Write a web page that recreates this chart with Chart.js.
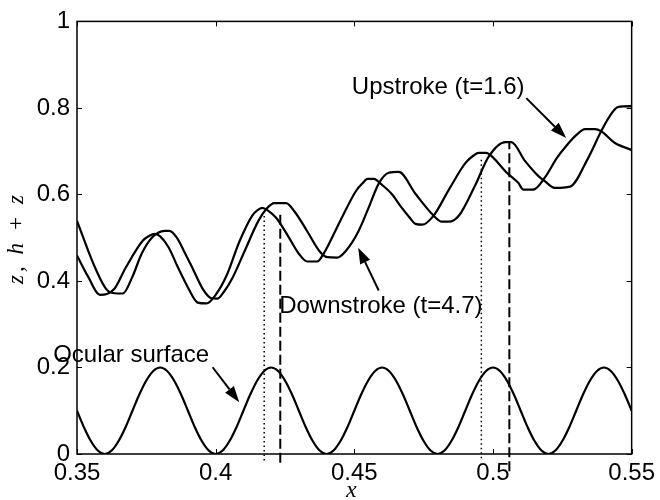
<!DOCTYPE html>
<html>
<head>
<meta charset="utf-8">
<script src="https://cdn.jsdelivr.net/npm/chart.js@4/dist/chart.umd.min.js"></script>
<style>
  html, body { margin: 0; padding: 0; background: #fff; }
  canvas { display: block; }
</style>
</head>
<body>
<canvas id="c" width="660" height="500"></canvas>
<script>
// Axis ticks
const X_TICKS = [0.35, 0.40, 0.45, 0.50, 0.55];
const X_TICK_LABELS = ['0.35', '0.4', '0.45', '0.5', '0.55'];
const Y_TICKS = [0, 0.2, 0.4, 0.6, 0.8, 1];
const Y_TICK_LABELS = ['0', '0.2', '0.4', '0.6', '0.8', '1'];

// Ocular surface z(x)
const OCULAR_X = [
  0.35, 0.3525, 0.355, 0.3575, 0.36, 0.3625, 0.365, 0.3675, 0.37, 0.3725, 0.375, 0.3775, 0.38, 0.3825, 0.385, 0.3875,
  0.39, 0.3925, 0.395, 0.3975, 0.40, 0.4025, 0.405, 0.4075, 0.41, 0.4125, 0.415, 0.4175, 0.42, 0.4225, 0.425, 0.4275,
  0.43, 0.4325, 0.435, 0.4375, 0.44, 0.4425, 0.445, 0.4475, 0.45, 0.4525, 0.455, 0.4575, 0.46, 0.4625, 0.465, 0.4675,
  0.47, 0.4725, 0.475, 0.4775, 0.48, 0.4825, 0.485, 0.4875, 0.49, 0.4925, 0.495, 0.4975, 0.50, 0.5025, 0.505, 0.5075,
  0.51, 0.5125, 0.515, 0.5175, 0.52, 0.5225, 0.525, 0.5275, 0.53, 0.5325, 0.535, 0.5375, 0.54, 0.5425, 0.545, 0.5475,
  0.55
];
const OCULAR_Y = [
  0.100, 0.062, 0.030, 0.008, 0.000, 0.008, 0.030, 0.062, 0.100, 0.138, 0.170, 0.192, 0.200, 0.192, 0.170, 0.138,
  0.100, 0.062, 0.030, 0.008, 0.000, 0.008, 0.030, 0.062, 0.100, 0.138, 0.170, 0.192, 0.200, 0.192, 0.170, 0.138,
  0.100, 0.062, 0.030, 0.008, 0.000, 0.008, 0.030, 0.062, 0.100, 0.138, 0.170, 0.192, 0.200, 0.192, 0.170, 0.138,
  0.100, 0.062, 0.030, 0.008, 0.000, 0.008, 0.030, 0.062, 0.100, 0.138, 0.170, 0.192, 0.200, 0.192, 0.170, 0.138,
  0.100, 0.062, 0.030, 0.008, 0.000, 0.008, 0.030, 0.062, 0.100, 0.138, 0.170, 0.192, 0.200, 0.192, 0.170, 0.138,
  0.100
];

// Film surface h+z during the upstroke (t=1.6)
const UP_X = [
  0.3500, 0.3540, 0.3583, 0.3608, 0.3635, 0.3675, 0.3737, 0.3760, 0.3780, 0.3800,
  0.3830, 0.3865, 0.3900, 0.3935, 0.3967, 0.4000, 0.4039, 0.4085, 0.4132, 0.4150,
  0.4168, 0.4190, 0.4218, 0.4260, 0.4300, 0.4330, 0.4366, 0.4391, 0.4450, 0.4506,
  0.4530, 0.4548, 0.4570, 0.4600, 0.4635, 0.4670, 0.4700, 0.4720, 0.4745, 0.4786,
  0.4840, 0.4901, 0.4930, 0.4948, 0.4976, 0.4994, 0.5050, 0.5091, 0.5110, 0.5145,
  0.5188, 0.5230, 0.5264, 0.5300, 0.5332, 0.5368, 0.5390, 0.5440, 0.5500
];
const UP_Y = [
  0.459, 0.410, 0.368, 0.370, 0.382, 0.430, 0.493, 0.504, 0.509, 0.503,
  0.478, 0.430, 0.385, 0.350, 0.348, 0.368, 0.412, 0.490, 0.551, 0.563,
  0.569, 0.562, 0.546, 0.505, 0.463, 0.445, 0.445, 0.465, 0.540, 0.608,
  0.626, 0.636, 0.636, 0.622, 0.601, 0.570, 0.546, 0.532, 0.530, 0.551,
  0.610, 0.673, 0.690, 0.696, 0.696, 0.689, 0.650, 0.627, 0.611, 0.611,
  0.640, 0.684, 0.712, 0.737, 0.751, 0.751, 0.746, 0.719, 0.703
];

// Film surface h+z during the downstroke (t=4.7)
const DOWN_X = [
  0.3500, 0.3565, 0.3610, 0.3647, 0.3665, 0.3700, 0.3733, 0.3770, 0.3816, 0.3834,
  0.3860, 0.3885, 0.3920, 0.3955, 0.3985, 0.4006, 0.4030, 0.4060, 0.4105, 0.4155,
  0.4185, 0.4211, 0.4254, 0.4285, 0.4330, 0.4373, 0.4402, 0.4438, 0.4470, 0.4515,
  0.4552, 0.4588, 0.4624, 0.4660, 0.4721, 0.4786, 0.4815, 0.4840, 0.4876, 0.4935,
  0.4985, 0.5045, 0.5066, 0.5116, 0.5163, 0.5188, 0.5224, 0.5278, 0.5343, 0.5390,
  0.5420, 0.5450, 0.5497, 0.5500
];
const DOWN_Y = [
  0.539, 0.431, 0.378, 0.371, 0.371, 0.410, 0.463, 0.500, 0.516, 0.516,
  0.500, 0.470, 0.425, 0.380, 0.360, 0.359, 0.375, 0.406, 0.470, 0.540,
  0.568, 0.580, 0.580, 0.560, 0.515, 0.470, 0.455, 0.454, 0.470, 0.515,
  0.570, 0.625, 0.650, 0.652, 0.601, 0.551, 0.537, 0.537, 0.550, 0.620,
  0.688, 0.721, 0.721, 0.677, 0.643, 0.630, 0.615, 0.618, 0.684, 0.746,
  0.780, 0.802, 0.804, 0.803
];

// Vertical guides under the crests (dotted: upstroke, dashed: downstroke)
const DOTTED_X = [0.4175, 0.4958];
const DOTTED_LOW = [-0.015, -0.010];
const DOTTED_HIGH = [0.558, 0.684];
const DASHED_X = [0.4233, 0.5059];
const DASHED_LOW = [-0.020, -0.040];
const DASHED_HIGH = [0.558, 0.719];

// Callout labels: text, anchor (left, baseline) and arrow tail -> tip, all in data units
const LABELS = [
  { text: 'Upstroke (t=1.6)',   at: [0.4491, 0.8318], tail: [0.5120, 0.8226], tip: [0.5264, 0.7304] },
  { text: 'Downstroke (t=4.7)', at: [0.4229, 0.3249], tail: [0.4588, 0.3779], tip: [0.4514, 0.4770] },
  { text: 'Ocular surface',     at: [0.3414, 0.2120], tail: [0.3989, 0.2005], tip: [0.4085, 0.1198] }
];

const SANS = '"Liberation Sans", Arial, Helvetica, sans-serif';
const SERIF = '"Liberation Serif", "Times New Roman", serif';
const FONT_PX = 24;
const TICK_LEN = 5;

const pairs = (xs, ys) => xs.map((x, i) => ({ x, y: ys[i] }));

const curve = (label, xs, ys) => ({
  label,
  data: pairs(xs, ys),
  borderColor: '#000',
  borderWidth: 2.2,
  pointRadius: 0,
  fill: false,
  cubicInterpolationMode: 'monotone'
});

const guide = (label, x, lo, hi, dash, width) => ({
  label,
  data: [{ x, y: lo }, { x, y: hi }],
  borderColor: '#000',
  borderWidth: width,
  borderDash: dash,
  pointRadius: 0,
  fill: false,
  clip: false
});

const datasets = [
  curve('Ocular surface', OCULAR_X, OCULAR_Y),
  curve('Upstroke (t=1.6)', UP_X, UP_Y),
  curve('Downstroke (t=4.7)', DOWN_X, DOWN_Y)
];
DOTTED_X.forEach((x, i) => datasets.push(guide('dotted ' + i, x, DOTTED_LOW[i], DOTTED_HIGH[i], [1.5, 3], 1.5)));
DASHED_X.forEach((x, i) => datasets.push(guide('dashed ' + i, x, DASHED_LOW[i], DASHED_HIGH[i], [10, 4], 2)));

function arrow(ctx, x0, y0, x1, y1, len, half) {
  const ang = Math.atan2(y1 - y0, x1 - x0);
  const bx = x1 - len * Math.cos(ang), by = y1 - len * Math.sin(ang);
  ctx.beginPath();
  ctx.moveTo(x0, y0);
  ctx.lineTo(bx, by);
  ctx.stroke();
  ctx.beginPath();
  ctx.moveTo(x1, y1);
  ctx.lineTo(bx + half * Math.sin(ang), by - half * Math.cos(ang));
  ctx.lineTo(bx - half * Math.sin(ang), by + half * Math.cos(ang));
  ctx.closePath();
  ctx.fill();
}

const frame = {
  id: 'frame',
  afterDraw(chart) {
    const { ctx, chartArea: a, scales: { x, y } } = chart;
    ctx.save();
    ctx.strokeStyle = '#000';
    ctx.fillStyle = '#000';

    // box
    ctx.lineWidth = 1.5;
    ctx.strokeRect(a.left, a.top, a.right - a.left, a.bottom - a.top);

    // inward ticks on all four sides
    ctx.lineWidth = 1;
    ctx.beginPath();
    X_TICKS.forEach(v => {
      const px = Math.round(x.getPixelForValue(v)) + 0.5;
      ctx.moveTo(px, a.bottom); ctx.lineTo(px, a.bottom - TICK_LEN);
      ctx.moveTo(px, a.top); ctx.lineTo(px, a.top + TICK_LEN);
    });
    Y_TICKS.forEach(v => {
      const py = Math.round(y.getPixelForValue(v)) + 0.5;
      ctx.moveTo(a.left, py); ctx.lineTo(a.left + TICK_LEN, py);
      ctx.moveTo(a.right, py); ctx.lineTo(a.right - TICK_LEN, py);
    });
    ctx.stroke();

    // callouts
    ctx.font = FONT_PX + 'px ' + SANS;
    ctx.textAlign = 'left';
    ctx.textBaseline = 'alphabetic';
    ctx.lineWidth = 2;
    LABELS.forEach(l => {
      ctx.fillText(l.text, x.getPixelForValue(l.at[0]), y.getPixelForValue(l.at[1]));
      arrow(ctx,
        x.getPixelForValue(l.tail[0]), y.getPixelForValue(l.tail[1]),
        x.getPixelForValue(l.tip[0]), y.getPixelForValue(l.tip[1]), 16, 5.5);
    });

    // axis titles
    ctx.font = 'italic 24px ' + SERIF;
    ctx.textAlign = 'center';
    ctx.textBaseline = 'alphabetic';
    ctx.fillText('x', (a.left + a.right) / 2 - 3, 497);

    ctx.translate(23, 238);
    ctx.rotate(-Math.PI / 2);
    ctx.font = 'italic 23px ' + SERIF;
    ctx.letterSpacing = '3px';
    ctx.fillText('z, h + z', 0, 0);
    ctx.restore();
  }
};

new Chart(document.getElementById('c'), {
  type: 'line',
  data: { datasets },
  options: {
    responsive: false,
    animation: false,
    devicePixelRatio: 1,
    layout: { padding: { left: 0, top: 20, right: 26, bottom: 0 } },
    plugins: { legend: { display: false }, tooltip: { enabled: false } },
    scales: {
      x: {
        type: 'linear',
        min: 0.35,
        max: 0.55,
        grid: { display: false, drawTicks: false },
        border: { display: false },
        afterBuildTicks: s => { s.ticks = X_TICKS.map(v => ({ value: v })); },
        afterFit: s => { s.height = 46; },
        ticks: {
          color: '#000',
          padding: 5,
          maxRotation: 0,
          font: { family: SANS, size: FONT_PX },
          callback: (v) => X_TICK_LABELS[X_TICKS.findIndex(t => Math.abs(t - v) < 1e-9)]
        }
      },
      y: {
        type: 'linear',
        min: 0,
        max: 1,
        grid: { display: false, drawTicks: false },
        border: { display: false },
        afterBuildTicks: s => { s.ticks = Y_TICKS.map(v => ({ value: v })); },
        afterFit: s => { s.width = 77; },
        ticks: {
          color: '#000',
          padding: 7,
          font: { family: SANS, size: FONT_PX },
          callback: (v) => Y_TICK_LABELS[Y_TICKS.findIndex(t => Math.abs(t - v) < 1e-9)]
        }
      }
    }
  },
  plugins: [frame]
});
</script>
</body>
</html>
